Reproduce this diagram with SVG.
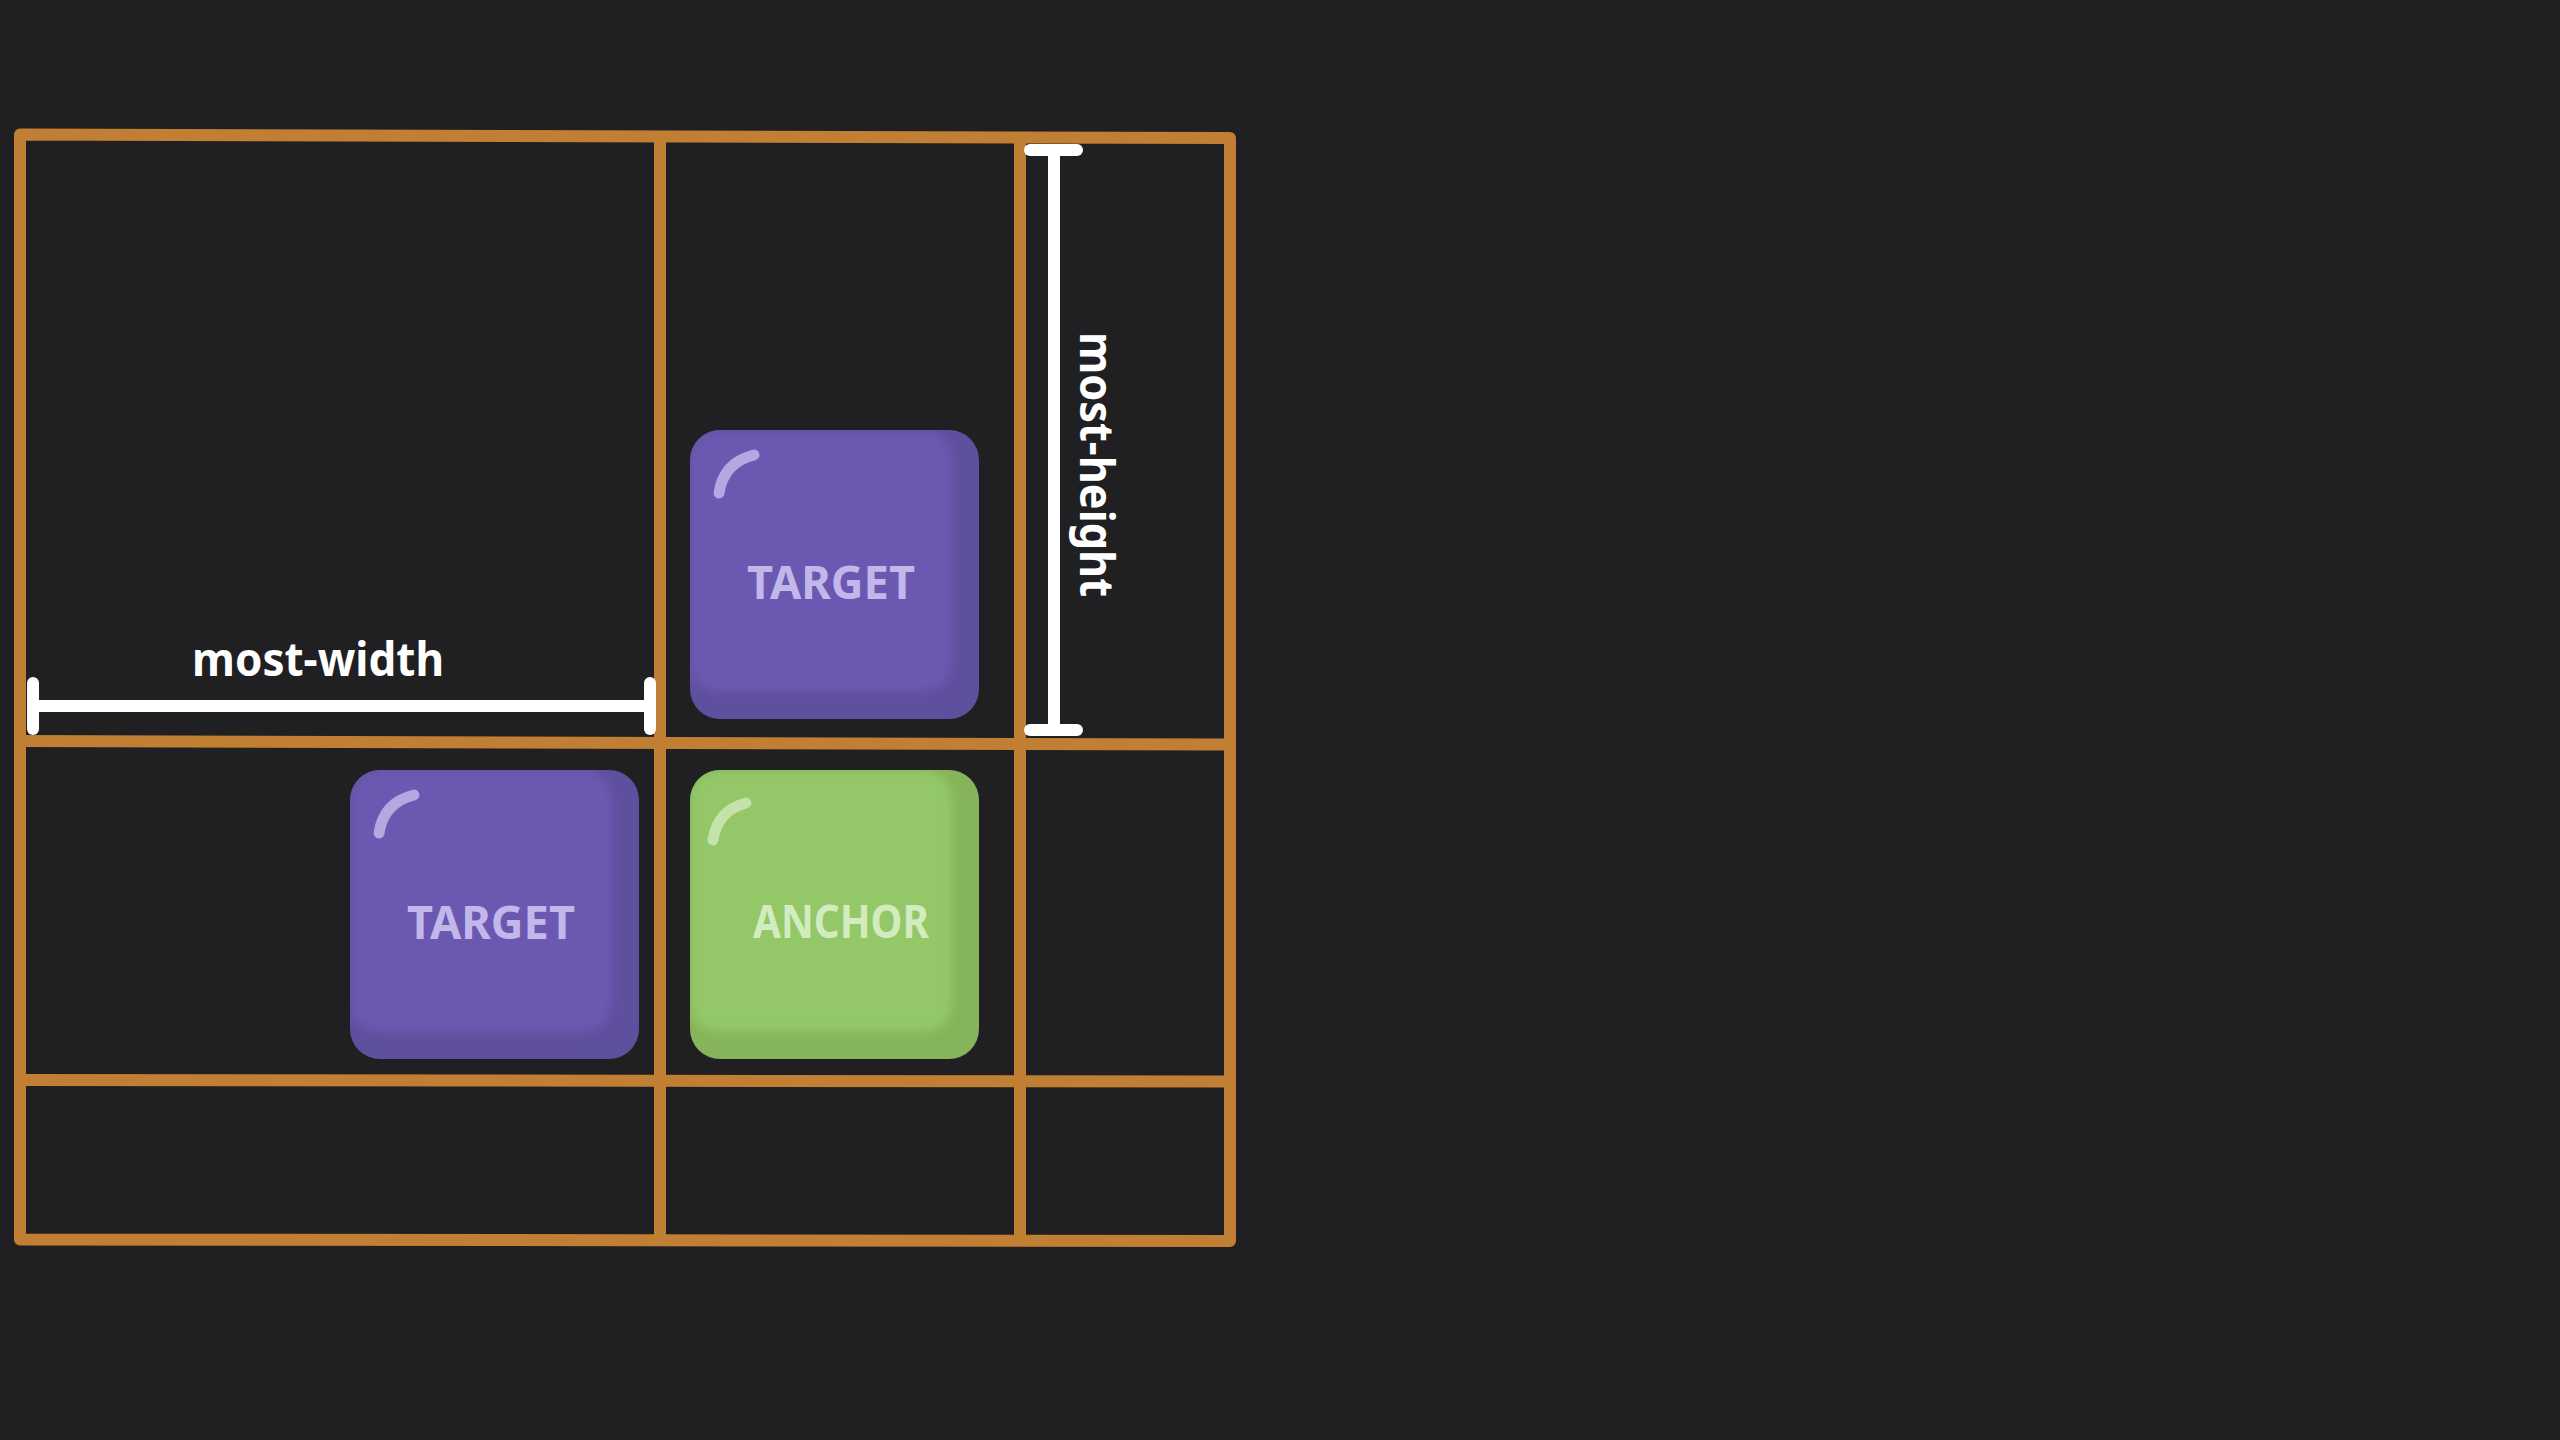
<svg xmlns="http://www.w3.org/2000/svg" width="2560" height="1440" viewBox="0 0 2560 1440">
<defs>
<style>
.grid{fill:none;stroke:#c17f34;stroke-width:12;stroke-linejoin:round;stroke-linecap:butt}
.meas{fill:none;stroke:#ffffff;stroke-width:12;stroke-linecap:round}
.cap{fill:none;stroke:#ffffff;stroke-width:12;stroke-linecap:round}
.lbl{font-family:"Noto Sans","DejaVu Sans",sans-serif;font-weight:700;font-size:46px;fill:#ffffff}
.p-base{fill:#5f4f9f}
.p-face{fill:#6b59b1}
.p-hl{fill:none;stroke:#b4a7e2;stroke-width:11;stroke-linecap:round}
.p-txt{font-family:"Noto Sans","DejaVu Sans",sans-serif;font-weight:700;font-size:46px;fill:#c2b7ea;text-anchor:middle}
.g-base{fill:#86b45a}
.g-face{fill:#93c767}
.g-hl{fill:none;stroke:#c4e2a9;stroke-width:11;stroke-linecap:round}
.g-txt{font-family:"Noto Sans","DejaVu Sans",sans-serif;font-weight:700;font-size:46px;fill:#d3ecbf;text-anchor:middle}
</style>
<filter id="soft" x="-10%" y="-10%" width="120%" height="120%"><feGaussianBlur stdDeviation="4"/></filter>
<clipPath id="keyclip"><rect width="289" height="289" rx="30"/></clipPath>
</defs>
<rect width="2560" height="1440" fill="#202022"/>
<g id="grid">
<path class="grid" d="M20,134.5 L1230,138 L1230,1241 L20,1239.5 Z"/>
<line class="grid" x1="660" y1="135.5" x2="660" y2="1240"/>
<line class="grid" x1="1020" y1="137" x2="1020" y2="1240.5"/>
<line class="grid" x1="20" y1="741" x2="1230" y2="744.5"/>
<line class="grid" x1="20" y1="1080" x2="1230" y2="1081.5"/>
</g>
<g id="target-top" transform="translate(690,430)">
<rect class="p-base" width="289" height="289" rx="30"/>
<rect class="p-face" width="262" height="262" rx="28" filter="url(#soft)" clip-path="url(#keyclip)"/>
<path class="p-hl" d="M29,63 C32,43 44,30 64,25"/>
<text class="p-txt" x="141" y="169" textLength="168" lengthAdjust="spacingAndGlyphs">TARGET</text>
</g>
<g id="target-left" transform="translate(350,770)">
<rect class="p-base" width="289" height="289" rx="30"/>
<rect class="p-face" width="262" height="262" rx="28" filter="url(#soft)" clip-path="url(#keyclip)"/>
<path class="p-hl" d="M29,63 C32,43 44,30 64,25"/>
<text class="p-txt" x="141" y="169" textLength="168" lengthAdjust="spacingAndGlyphs">TARGET</text>
</g>
<g id="anchor" transform="translate(690,770)">
<rect class="g-base" width="289" height="289" rx="30"/>
<rect class="g-face" width="262" height="262" rx="28" filter="url(#soft)" clip-path="url(#keyclip)"/>
<path class="g-hl" d="M23,70 C26,50 37,38 56,33"/>
<text class="g-txt" x="151" y="168" textLength="176" lengthAdjust="spacingAndGlyphs">ANCHOR</text>
</g>
<g id="measures">
<g id="most-width">
<line class="meas" x1="33" y1="706" x2="650" y2="706"/>
<line class="cap" x1="33" y1="683" x2="33" y2="729"/>
<line class="cap" x1="650" y1="683" x2="650" y2="729"/>
<text class="lbl" x="192" y="676" textLength="252" lengthAdjust="spacingAndGlyphs">most-width</text>
</g>
<g id="most-height">
<line class="meas" x1="1054" y1="150" x2="1054" y2="730"/>
<line class="cap" x1="1030" y1="150" x2="1077" y2="150"/>
<line class="cap" x1="1030" y1="730" x2="1077" y2="730"/>
<text class="lbl" transform="translate(1080,332) rotate(90)" x="0" y="0" textLength="265" lengthAdjust="spacingAndGlyphs">most-height</text>
</g>
</g>
</svg>
